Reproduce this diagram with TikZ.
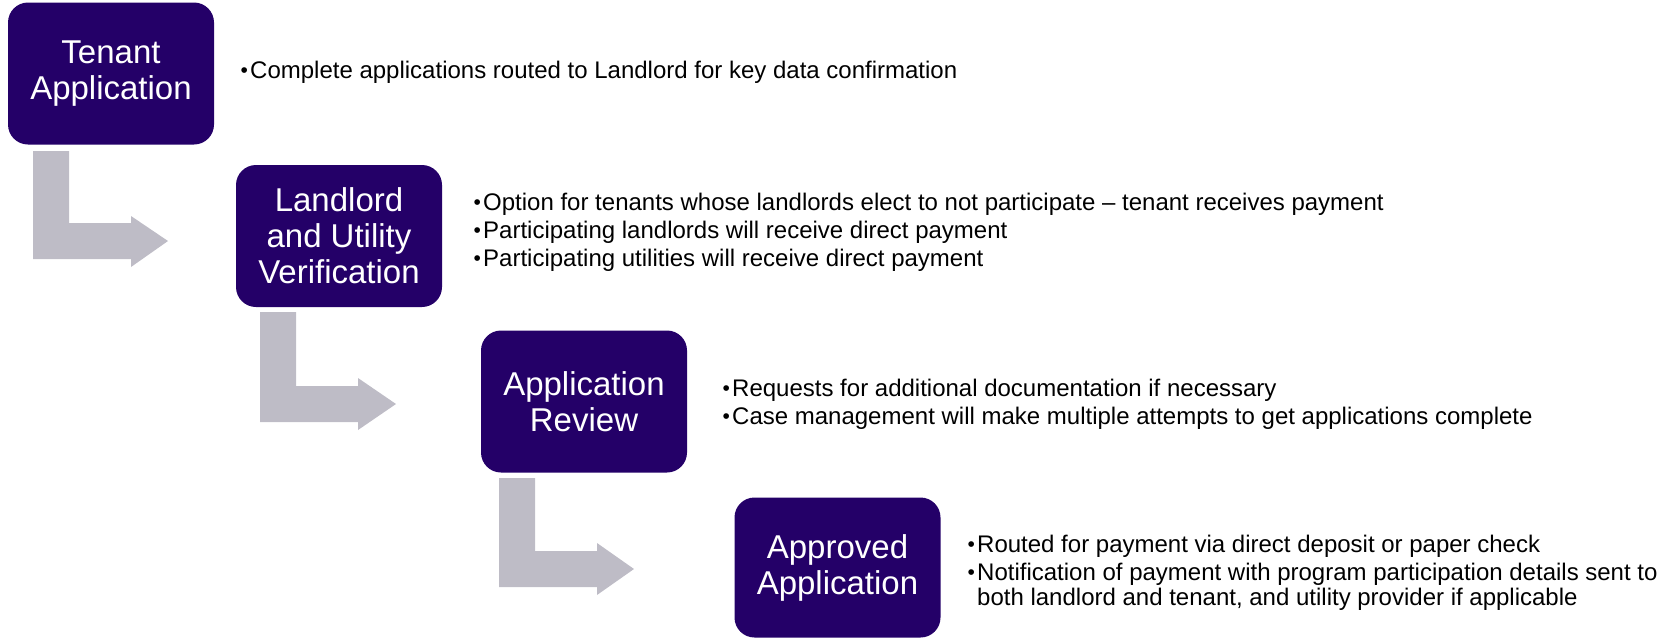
\documentclass[tikz,border=0pt]{standalone}
\usepackage{fontspec}
\setmainfont{Liberation Sans}
\definecolor{boxpurple}{RGB}{36,0,104}
\definecolor{arrowgray}{RGB}{190,188,198}
\tikzset{
  stepbox/.style={fill=boxpurple, draw=none, rounded corners=20pt, minimum width=206pt, minimum height=142pt, inner sep=0pt, align=center, text=white, font=\fontsize{33}{36}\selectfont},
  bullettext/.style={anchor=base west, inner sep=0pt, text=black, font=\fontsize{24}{28}\selectfont},
  bentarrow/.style={fill=arrowgray, draw=none}
}
\newcommand{\bul}{\makebox[12pt][c]{\fontsize{21}{21}\selectfont\raisebox{0.8pt}{•}}}
\begin{document}
\begin{tikzpicture}[x=1pt,y=-1pt]
\useasboundingbox (0,0) rectangle (1669,638);
% boxes
\node[stepbox] (b1) at (111,73.5) {Tenant\\Application};
\node[stepbox] (b2) at (339,236) {Landlord\\and Utility\\Verification};
\node[stepbox] (b3) at (584,401.5) {Application\\Review};
\node[stepbox, minimum height=140pt] (b4) at (837.5,567.5) {Approved\\Application};
% bent arrows
\fill[bentarrow] (33,151) -- (69,151) -- (69,223) -- (131,223) -- (131,216) -- (168,241) -- (131,267) -- (131,259) -- (33,259) -- cycle;
\fill[bentarrow] (260,312) -- (296,312) -- (296,386) -- (358,386) -- (358,378) -- (396,404) -- (358,430) -- (358,422) -- (260,422) -- cycle;
\fill[bentarrow] (499,478) -- (535,478) -- (535,551) -- (597,551) -- (597,543) -- (634,569) -- (597,595) -- (597,587) -- (499,587) -- cycle;
% texts
\node[bullettext] (t1) at (238,78) {\bul Complete applications routed to Landlord for key data confirmation};
\node[bullettext] (t2a) at (471,210) {\bul Option for tenants whose landlords elect to not participate – tenant receives payment};
\node[bullettext] (t2b) at (471,238) {\bul Participating landlords will receive direct payment};
\node[bullettext] (t2c) at (471,266) {\bul Participating utilities will receive direct payment};
\node[bullettext] (t3a) at (720,396) {\bul Requests for additional documentation if necessary};
\node[bullettext] (t3b) at (720,424) {\bul Case management will make multiple attempts to get applications complete};
\node[bullettext] (t4a) at (965,552) {\bul Routed for payment via direct deposit or paper check};
\node[bullettext] (t4b) at (965,580) {\bul Notification of payment with program participation details sent to};
\node[bullettext] (t4c) at (977,605) {both landlord and tenant, and utility provider if applicable};
\end{tikzpicture}
\end{document}
